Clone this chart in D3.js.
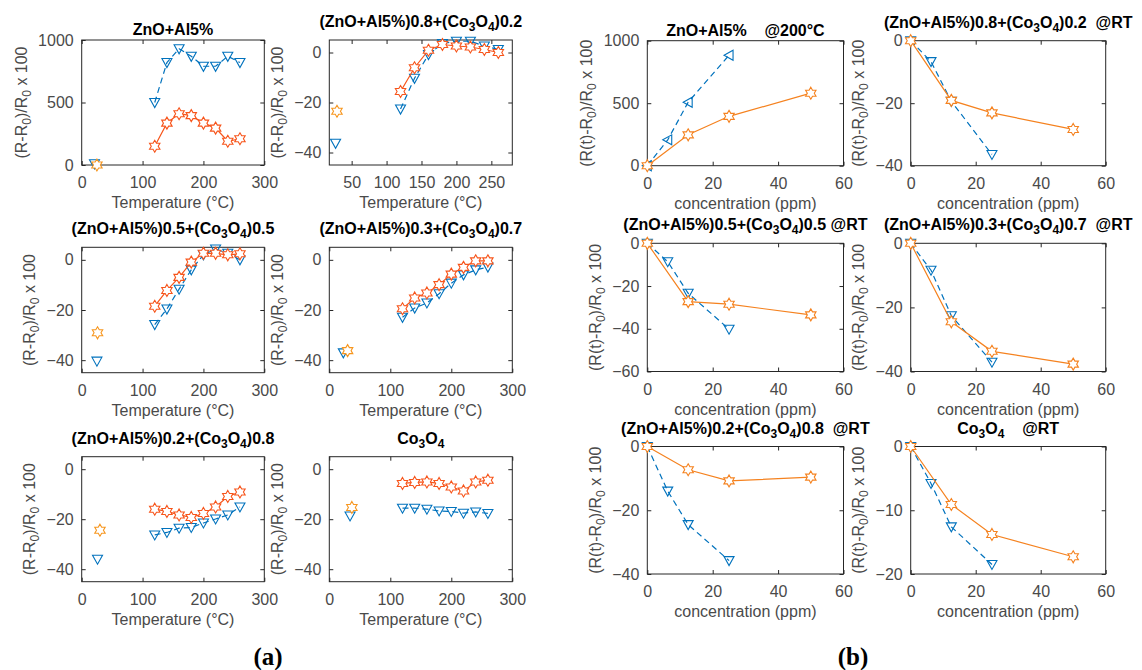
<!DOCTYPE html>
<html>
<head>
<meta charset="utf-8">
<script src="https://cdn.jsdelivr.net/npm/d3@7"></script>
<style>
  body { margin: 0; background: #fff; }
  text { font-family: "Liberation Sans", Arial, Helvetica, sans-serif; }
</style>
</head>
<body>
<div id="chart"></div>
<script>
// ---- panel (a): response vs temperature ----
const tempC = [120, 140, 160, 180, 200, 220, 240, 260];
const aTitles = ['ZnO+Al5%', '(ZnO+Al5%)0.8+(Co_3O_4)0.2', '(ZnO+Al5%)0.5+(Co_3O_4)0.5',
                 '(ZnO+Al5%)0.3+(Co_3O_4)0.7', '(ZnO+Al5%)0.2+(Co_3O_4)0.8', 'Co_3O_4'];
const aBlue = [
  [500, 820, 930, 870, 790, 790, 870, 820],
  [-22.6, -10.3, -0.8, 3.6, 4.5, 4.5, 2.6, 1.2],
  [-25.8, -19.6, -11.7, -4.0, 2.0, 4.3, 2.6, 0],
  [-22.9, -19.2, -17.2, -13.5, -9.3, -6.0, -4.0, -2.9],
  [-26.3, -25.3, -23.6, -23.3, -21.5, -19.9, -18.3, -15.1],
  [-15.6, -15.6, -16.0, -16.7, -16.9, -17.6, -17.1, -17.7]
];
const aOrange = [
  [150, 335, 410, 395, 335, 295, 190, 210],
  [-15.6, -6.1, 0.9, 3.2, 2.6, 2.2, 1.2, 0],
  [-18.5, -12.2, -7.0, -0.9, 2.6, 2.6, 2.0, 2.4],
  [-19.5, -15.2, -13.2, -9.9, -5.7, -3.0, -0.4, -0.4],
  [-16.0, -16.9, -18.3, -19.3, -17.7, -15.1, -10.9, -9.1],
  [-5.7, -5.3, -5.1, -5.7, -7.1, -8.7, -5.1, -4.4]
];
// single room-temperature points
const rtBlueX = [21, 27, 25, 23, 26, 34];
const rtBlueY = [10, -36.3, -40.4, -37.1, -36, -18.7];
const rtOrangeX = [25, 29, 26, 30, 30, 37];
const rtOrangeY = [0, -23.5, -29.1, -36.2, -24.4, -15.3];
const aXTicks = [[0, 100, 200, 300], [50, 100, 150, 200, 250], [0, 100, 200, 300],
                 [0, 100, 200, 300], [0, 100, 200, 300], [0, 100, 200, 300]];
const aYTicks = [[0, 500, 1000], [-40, -20, 0], [-40, -20, 0], [-40, -20, 0], [-40, -20, 0], [-40, -20, 0]];

// ---- panel (b): response vs concentration ----
const concBlue = [0, 6.25, 12.5, 25];
const concOrange = [0, 12.5, 25, 50];
const bTitles = ['ZnO+Al5%    @200°C', '(ZnO+Al5%)0.8+(Co_3O_4)0.2  @RT', '(ZnO+Al5%)0.5+(Co_3O_4)0.5 @RT',
                 '(ZnO+Al5%)0.3+(Co_3O_4)0.7  @RT', '(ZnO+Al5%)0.2+(Co_3O_4)0.8  @RT', 'Co_3O_4    @RT'];
const bBlue = [
  [0, 207, 508, 884],
  [0, -6.7, -19.4, -36.4],
  [0, -8.6, -23.4, -40.2],
  [0, -8.4, -22.6, -37.1],
  [0, -14.0, -24.5, -35.8],
  [0, -5.8, -12.6, -18.5]
];
const bOrange = [
  [0, 247, 395, 580],
  [0, -19.1, -23.1, -28.4],
  [0, -27.3, -28.5, -33.5],
  [0, -24.5, -33.7, -37.7],
  [0, -7.3, -10.8, -9.6],
  [0, -9.1, -13.8, -17.3]
];
const bXTicks = [0, 20, 40, 60];
const bYTicks = [[0, 500, 1000], [-40, -20, 0], [-60, -40, -20, 0], [-40, -20, 0], [-40, -20, 0], [-20, -10, 0]];

// layout
const W = 1142, H = 670;
const aCols = [[81.7, 264.3], [329.3, 512.3]];
const aRows = [[40, 165], [247.3, 372.7], [456.7, 581.7]];
const bCols = [[647.3, 843.5], [910.7, 1105.7]];
const bRows = [[40.7, 165.7], [243.3, 371.5], [446.5, 574]];
const aXDom = [[0, 300], [18, 280], [0, 300], [0, 300], [0, 300], [0, 300]];
const aYDom = [[0, 1000], [-45, 5], [-45, 5], [-45, 5], [-45, 5], [-45, 5]];
const bYDom = [[0, 1000], [-40, 0], [-60, 0], [-40, 0], [-40, 0], [-20, 0]];

const blue = '#0072BD', aLineOrange = '#F7541A', aRtOrange = '#F7961E', bOrangeCol = '#F5821F';
const axisCol = '#262626', labelCol = '#4a4a4a';
const fs = 16, subFs = 12;

const svg = d3.select('#chart').append('svg')
  .attr('width', W)
  .attr('height', H)
  .style('background', '#fff');

// text with _x subscripts
const richText = (sel, str, subSize) => {
  const parts = str.split(/_(.)/);
  parts.forEach((p, i) => {
    const sub = i % 2 === 1;
    const afterSub = i > 0 && (i - 1) % 2 === 1;
    sel.append('tspan')
      .text(p)
      .attr('font-size', sub ? subSize : null)
      .attr('dy', sub ? 4 : (afterSub ? -4 : null));
  });
};

// marker shapes
const triDown = 'M-5,-4L5,-4L0,5Z';
const triLeft = 'M4,-5L4,5L-5,0Z';
const hexagram = (() => {
  const R = 6, r = R / Math.sqrt(3), pts = [];
  for (let k = 0; k < 12; k++) {
    const ang = -Math.PI / 2 + k * Math.PI / 6;
    const rad = k % 2 === 0 ? R : r;
    pts.push([rad * Math.cos(ang), rad * Math.sin(ang)]);
  }
  return 'M' + pts.map(p => p[0].toFixed(2) + ',' + p[1].toFixed(2)).join('L') + 'Z';
})();

const makeAxes = (box, xDom, xTicks, yDom, yTicks, title, xLabel, yLabel) => {
  const g = svg.append('g');
  const x = d3.scaleLinear().domain(xDom).range([box.l, box.r]);
  const y = d3.scaleLinear().domain(yDom).range([box.b, box.t]);
  const fmt = d3.format('d');

  const style = a => {
    a.select('.domain').remove();
    a.selectAll('line').attr('stroke', axisCol);
    a.selectAll('text').attr('font-size', fs).attr('fill', labelCol);
  };

  g.append('g').attr('transform', `translate(0,${box.b})`)
    .call(d3.axisBottom(x).tickValues(xTicks).tickFormat(fmt).tickSize(-4).tickPadding(12)).call(style);
  g.append('g').attr('transform', `translate(0,${box.t})`)
    .call(d3.axisTop(x).tickValues(xTicks).tickSize(-4).tickFormat('')).call(style);
  const left = g.append('g').attr('transform', `translate(${box.l},0)`)
    .call(d3.axisLeft(y).tickValues(yTicks).tickFormat(fmt).tickSize(-4).tickPadding(8)).call(style);
  g.append('g').attr('transform', `translate(${box.r},0)`)
    .call(d3.axisRight(y).tickValues(yTicks).tickSize(-4).tickFormat('')).call(style);

  g.append('rect')
    .attr('x', box.l).attr('y', box.t)
    .attr('width', box.r - box.l).attr('height', box.b - box.t)
    .attr('fill', 'none').attr('stroke', axisCol).attr('stroke-width', 1);

  let tw = 0;
  left.selectAll('text').each(function() { tw = Math.max(tw, this.getBBox().width); });

  const hasSub = title.indexOf('_') >= 0;
  const t = g.append('text')
    .attr('x', (box.l + box.r) / 2)
    .attr('y', box.t - (hasSub ? 13 : 5))
    .attr('text-anchor', 'middle')
    .attr('font-size', fs)
    .attr('font-weight', 'bold')
    .attr('fill', '#000')
    .style('white-space', 'pre');
  richText(t, title, subFs);

  g.append('text')
    .attr('x', (box.l + box.r) / 2)
    .attr('y', box.b + 43)
    .attr('text-anchor', 'middle')
    .attr('font-size', fs)
    .attr('fill', labelCol)
    .text(xLabel);

  const yl = g.append('text')
    .attr('transform', `translate(${box.l - 8 - tw - 17},${(box.t + box.b) / 2}) rotate(-90)`)
    .attr('dy', '0.35em')
    .attr('text-anchor', 'middle')
    .attr('font-size', fs)
    .attr('fill', labelCol);
  richText(yl, yLabel, subFs);

  return { g, x, y };
};

const drawSeries = (ax, xs, ys, color, marker, dashed, withLine) => {
  const pts = xs.map((v, i) => [v, ys[i]]);
  if (withLine) {
    ax.g.append('path')
      .datum(pts)
      .attr('d', d3.line().x(d => ax.x(d[0])).y(d => ax.y(d[1])))
      .attr('fill', 'none')
      .attr('stroke', color)
      .attr('stroke-width', 1.2)
      .attr('stroke-dasharray', dashed ? '6,4' : null);
  }
  ax.g.append('g').selectAll('path')
    .data(pts)
    .join('path')
      .attr('d', marker)
      .attr('transform', d => `translate(${ax.x(d[0])},${ax.y(d[1])})`)
      .attr('fill', marker === hexagram ? '#fff' : 'none')
      .attr('stroke', color)
      .attr('stroke-width', 1.1);
};

// panel (a)
aTitles.forEach((title, i) => {
  const c = aCols[i % 2], r = aRows[Math.floor(i / 2)];
  const ax = makeAxes({ l: c[0], r: c[1], t: r[0], b: r[1] }, aXDom[i], aXTicks[i], aYDom[i], aYTicks[i],
    title, 'Temperature (°C)', '(R-R_0)/R_0 x 100');
  drawSeries(ax, tempC, aBlue[i], blue, triDown, true, true);
  drawSeries(ax, tempC, aOrange[i], aLineOrange, hexagram, false, true);
  drawSeries(ax, [rtBlueX[i]], [rtBlueY[i]], blue, triDown, false, false);
  drawSeries(ax, [rtOrangeX[i]], [rtOrangeY[i]], aRtOrange, hexagram, false, false);
});

// panel (b)
bTitles.forEach((title, i) => {
  const c = bCols[i % 2], r = bRows[Math.floor(i / 2)];
  const ax = makeAxes({ l: c[0], r: c[1], t: r[0], b: r[1] }, [0, 60], bXTicks, bYDom[i], bYTicks[i],
    title, 'concentration (ppm)', '(R(t)-R_0)/R_0 x 100');
  drawSeries(ax, concBlue, bBlue[i], blue, i === 0 ? triLeft : triDown, true, true);
  drawSeries(ax, concOrange, bOrange[i], bOrangeCol, hexagram, false, true);
});

// panel letters
[['(a)', 268], ['(b)', 853]].forEach(([s, cx]) => {
  svg.append('text')
    .attr('x', cx)
    .attr('y', 665)
    .attr('text-anchor', 'middle')
    .attr('font-size', 25)
    .attr('font-weight', 'bold')
    .attr('fill', '#000')
    .style('font-family', '"Liberation Serif", "Times New Roman", serif')
    .text(s);
});
</script>
</body>
</html>
